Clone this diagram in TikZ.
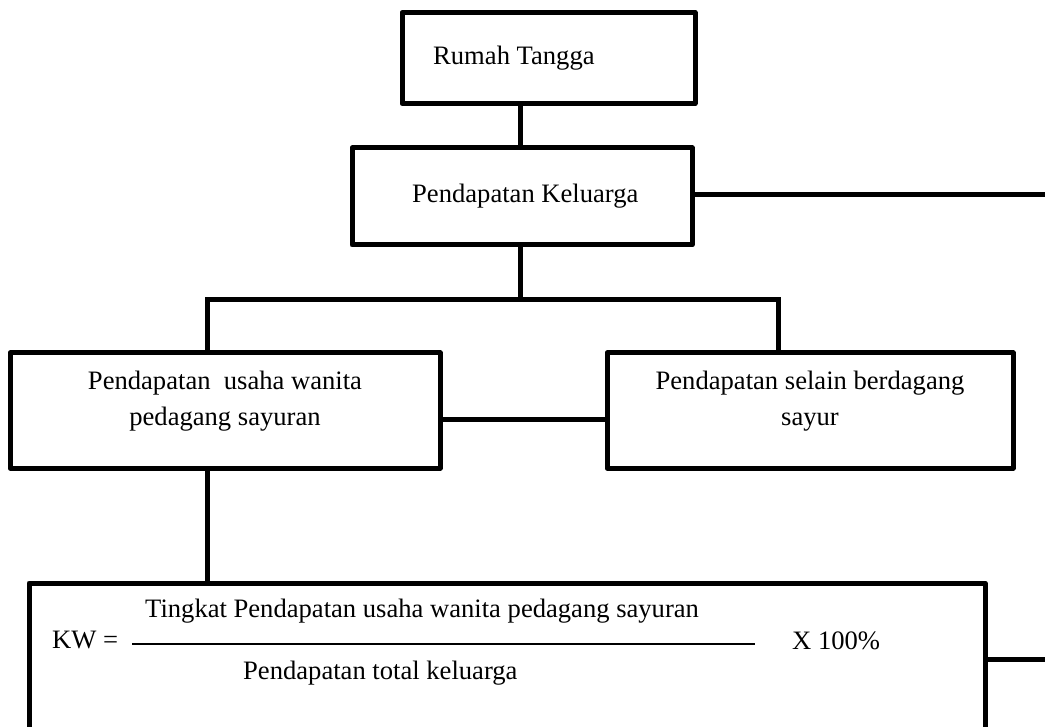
\documentclass[tikz,border=0pt]{standalone}
\usepackage{fontspec}
\setmainfont{Liberation Serif}
\begin{document}
\begin{tikzpicture}[x=1pt,y=-1pt,
  box/.style={draw=black,line width=5pt,rectangle,inner sep=0pt,line join=round},
  conn/.style={draw=black,line width=5pt},
  lbl/.style={inner sep=0pt,font=\fontsize{26.6}{32}\selectfont,text=black}]
\useasboundingbox (0,0) rectangle (1045,727);
% boxes
\node[box,minimum width=293pt,minimum height=91pt] (rt) at (548.5,58) {};
\node[box,minimum width=340pt,minimum height=97pt] (pk) at (522,196.5) {};
\node[box,minimum width=430pt,minimum height=115pt] (lb) at (225,410.5) {};
\node[box,minimum width=406pt,minimum height=115pt] (rb) at (810,410.5) {};
\node[box,minimum width=956pt,minimum height=177pt] (kw) at (507,671.5) {};
% helper coordinates
\coordinate (xa) at (520,0);
\coordinate (xl) at (207,0);
\coordinate (xr) at (778,0);
\coordinate (j) at (520,300);
\coordinate (ym) at (0,420);
\coordinate (yk) at (0,659);
\coordinate (re) at (1047.5,195);
% connectors
\draw[conn] (rt.south -| xa) -- (pk.north -| xa);
\draw[conn] (pk.south -| xa) -- (j);
\draw[conn] (lb.north -| xl) |- (j) -| (rb.north -| xr);
\draw[conn] (lb.east |- ym) -- (rb.west |- ym);
\draw[conn] (lb.south -| xl) -- (kw.north -| xl);
\draw[conn] (pk.east |- re) -- (re) |- (kw.east |- yk);
% texts
\node[lbl,anchor=base west] (t1) at (433,65) {Rumah Tangga};
\node[lbl,anchor=base west] (t2) at (412,203) {Pendapatan Keluarga};
\node[lbl,anchor=base] (t3) at (225,390) {Pendapatan\ \ usaha wanita};
\node[lbl,anchor=base] (t4) at (225,425) {pedagang sayuran};
\node[lbl,anchor=base] (t5) at (810,390) {Pendapatan selain berdagang};
\node[lbl,anchor=base] (t6) at (810,425) {sayur};
\node[lbl,anchor=base west] (t7) at (52,648) {KW =};
\node[lbl,anchor=base west] (t8) at (145,617) {Tingkat Pendapatan usaha wanita pedagang sayuran};
\node[lbl,anchor=base west] (t9) at (243,679) {Pendapatan total keluarga};
\node[lbl,anchor=base west] (t10) at (792,649) {X 100\%};
\coordinate (fa) at (132,644);
\coordinate (fb) at (755,644);
\draw[line width=2.5pt] (fa) -- (fb);
\end{tikzpicture}
\end{document}
